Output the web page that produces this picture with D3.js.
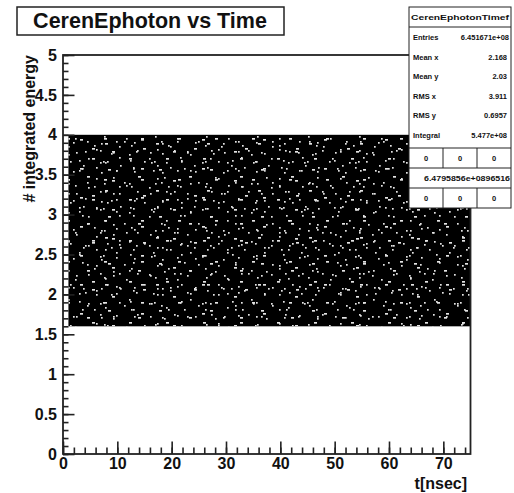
<!DOCTYPE html>
<html lang="en">
    <head>
        <meta charset="utf-8">
        <title>CerenEphoton vs Time</title>
        <script type="text/javascript" src="https://d3js.org/d3.v7.min.js"></script>
        <style type="text/css">
            body { margin: 0; background: #fff; }
            text { font-family: "Liberation Sans", Arial, sans-serif; font-weight: bold; fill: #111; }
        </style>
    </head>
    <body>
        <script type="text/javascript">
            //Width and height
            var w = 514;
            var h = 493;

            // occupied region of the 2D histogram (t, energy)
            var cellX = [1, 75];
            var cellY = [1.6, 4.0];

            // axes
            var xDomain = [0, 75];
            var yDomain = [0, 5];
            var xTicks = [0, 10, 20, 30, 40, 50, 60, 70];
            var yTicks = [0, 0.5, 1, 1.5, 2, 2.5, 3, 3.5, 4, 4.5, 5];

            // stats box
            var statTitle = "CerenEphotonTimef";
            var statLabels = ["Entries", "Mean x", "Mean y", "RMS x", "RMS y", "Integral"];
            var statValues = ["6.451671e+08", "2.168", "2.03", "3.911", "0.6957", "5.477e+08"];
            var overflowRows = [["0", "0", "0"], ["6.4795856e+0896516"], ["0", "0", "0"]];

            // frame edges (avoid window.top)
            var fLeft = 63, fRight = 470.5, fTop = 55, fBottom = 454;

            var x = d3.scaleLinear().domain(xDomain).range([fLeft, fRight]);
            var y = d3.scaleLinear().domain(yDomain).range([fBottom, fTop]);

            var svg = d3.select("body")
                        .append("svg")
                        .attr("width", w)
                        .attr("height", h);

            // speckle textures for the filled scatter area; three tiles of
            // different sizes overlap so the repeat is hard to see
            var speckTiles = [
                { id: "spA", w: 51, h: 47, pts: [[3,2,2],[17,5,1],[41,7,2],[9,12,1],[34,10,1],[1,20,1],
                                                [28,19,1],[49,21,1],[6,28,2],[31,27,1],[11,36,1],[36,35,2],
                                                [2,42,1],[24,44,1]] },
                { id: "spB", w: 37, h: 41, pts: [[5,6,1],[22,3,1],[30,15,2],[13,18,1],[2,29,1],[26,27,1],
                                                [18,35,2],[33,38,1],[9,1,1],[20,22,1]] },
                { id: "spC", w: 61, h: 29, pts: [[7,9,1],[19,23,2],[35,4,1],[44,17,1],[55,25,1],[27,13,1],
                                                [51,6,2],[12,26,1],[40,27,1],[58,12,1]] }
            ];
            var defs = svg.append("defs");
            speckTiles.forEach(function(t) {
                var p = defs.append("pattern")
                            .attr("id", t.id)
                            .attr("patternUnits", "userSpaceOnUse")
                            .attr("width", t.w).attr("height", t.h);
                p.selectAll("rect")
                 .data(t.pts)
                 .enter()
                 .append("rect")
                 .attr("x", function(d) { return d[0]; })
                 .attr("y", function(d) { return d[1]; })
                 .attr("width", function(d) { return d[2] === 2 ? 3 : 1.7; })
                 .attr("height", 1.7)
                 .attr("fill", "#e4e4e4");
            });

            var cell = {
                x: x(cellX[0]),
                y: y(cellY[1]),
                w: x(cellX[1]) - x(cellX[0]),
                h: y(cellY[0]) - y(cellY[1])
            };
            svg.append("rect")
               .attr("x", cell.x).attr("y", cell.y)
               .attr("width", cell.w).attr("height", cell.h)
               .attr("fill", "#000");
            svg.selectAll("rect.speck")
               .data(speckTiles)
               .enter()
               .append("rect")
               .attr("class", "speck")
               .attr("x", cell.x).attr("y", cell.y)
               .attr("width", cell.w).attr("height", cell.h)
               .attr("fill", function(d) { return "url(#" + d.id + ")"; });

            // axes with ROOT style inward ticks
            function xMinor() {
                var v = [];
                for (var i = 0; i <= 75; i += 2) v.push(i);
                return v;
            }
            function yMinor() {
                var v = [];
                for (var i = 0; i <= 50; i++) v.push(i / 10);
                return v;
            }
            function styleLabels(g) {
                g.select(".domain").remove();
                g.selectAll("text").attr("font-size", "16px").attr("fill", "#111")
                 .attr("font-family", "Liberation Sans, Arial, sans-serif").attr("font-weight", "bold");
            }

            svg.append("g")
               .attr("transform", "translate(0," + fBottom + ")")
               .call(d3.axisBottom(x).tickValues(xMinor()).tickSize(-6.5).tickFormat("").tickSizeOuter(0))
               .call(function(g) { g.select(".domain").remove(); });
            svg.append("g")
               .attr("transform", "translate(0," + fBottom + ")")
               .call(d3.axisBottom(x).tickValues(xTicks).tickSize(-12.5).tickPadding(3.8).tickSizeOuter(0))
               .call(styleLabels);

            svg.append("g")
               .attr("transform", "translate(" + fLeft + ",0)")
               .call(d3.axisLeft(y).tickValues(yMinor()).tickSize(-5.5).tickFormat("").tickSizeOuter(0))
               .call(function(g) { g.select(".domain").remove(); });
            svg.append("g")
               .attr("transform", "translate(" + fLeft + ",0)")
               .call(d3.axisLeft(y).tickValues(yTicks).tickSize(-11.5).tickPadding(6).tickSizeOuter(0)
                       .tickFormat(function(d) { return String(d); }))
               .call(styleLabels);

            svg.selectAll(".tick line").attr("stroke", "#222").attr("stroke-width", 1.6);

            // frame
            svg.append("rect")
               .attr("x", fLeft).attr("y", fTop)
               .attr("width", fRight - fLeft).attr("height", fBottom - fTop)
               .attr("fill", "none")
               .attr("stroke", "#222")
               .attr("stroke-width", 1.8);

            // axis titles
            svg.append("text")
               .attr("x", 467).attr("y", 489)
               .attr("text-anchor", "end")
               .attr("font-size", "16px")
               .text("t[nsec]");

            svg.append("text")
               .attr("transform", "translate(35," + fTop + ") rotate(-90)")
               .attr("text-anchor", "end")
               .attr("font-size", "16px")
               .text("# integrated energy");

            // title box
            svg.append("rect")
               .attr("x", 17).attr("y", 7).attr("width", 267).attr("height", 28)
               .attr("fill", "#fff").attr("stroke", "#222").attr("stroke-width", 1.5);
            svg.append("text")
               .attr("x", 150).attr("y", 27.5)
               .attr("text-anchor", "middle")
               .attr("font-size", "21.5px")
               .text("CerenEphoton vs Time");

            // stats box
            var sx0 = 409, sx1 = 511, sy0 = 7;
            var stats = svg.append("g");
            stats.append("rect")
                 .attr("x", sx0).attr("y", sy0).attr("width", sx1 - sx0).attr("height", 201)
                 .attr("fill", "#fff").attr("stroke", "#222").attr("stroke-width", 1);
            stats.append("line")
                 .attr("x1", sx0).attr("x2", sx1).attr("y1", 27).attr("y2", 27)
                 .attr("stroke", "#222").attr("stroke-width", 1);
            stats.append("text")
                 .attr("x", (sx0 + sx1) / 2).attr("y", 20)
                 .attr("text-anchor", "middle")
                 .attr("font-size", "8px")
                 .attr("textLength", 98).attr("lengthAdjust", "spacingAndGlyphs")
                 .text(statTitle);

            stats.selectAll("text.lab")
                 .data(statLabels)
                 .enter()
                 .append("text")
                 .attr("class", "lab")
                 .attr("x", sx0 + 4)
                 .attr("y", function(d, i) { return 40 + i * 19.6; })
                 .attr("font-size", "7.5px")
                 .text(function(d) { return d; });
            stats.selectAll("text.val")
                 .data(statValues)
                 .enter()
                 .append("text")
                 .attr("class", "val")
                 .attr("x", function(d, i) { return i === 0 ? sx1 - 2 : sx1 - 4; })
                 .attr("y", function(d, i) { return 40 + i * 19.6; })
                 .attr("text-anchor", "end")
                 .attr("font-size", "7.5px")
                 .text(function(d) { return d; });

            // underflow / overflow table
            var rowY = [148, 168, 188, 208];
            var colX = [sx0, 443, 477, sx1];
            rowY.slice(0, 3).forEach(function(ry) {
                stats.append("line")
                     .attr("x1", sx0).attr("x2", sx1).attr("y1", ry).attr("y2", ry)
                     .attr("stroke", "#222").attr("stroke-width", 1);
            });
            overflowRows.forEach(function(row, r) {
                if (row.length === 3) {
                    [1, 2].forEach(function(c) {
                        stats.append("line")
                             .attr("x1", colX[c]).attr("x2", colX[c])
                             .attr("y1", rowY[r]).attr("y2", rowY[r + 1])
                             .attr("stroke", "#222").attr("stroke-width", 1);
                    });
                    row.forEach(function(v, c) {
                        stats.append("text")
                             .attr("x", (colX[c] + colX[c + 1]) / 2)
                             .attr("y", rowY[r] + 12.5)
                             .attr("text-anchor", "middle")
                             .attr("font-size", "7.5px")
                             .text(v);
                    });
                } else {
                    stats.append("text")
                         .attr("x", 424)
                         .attr("y", rowY[r] + 12.5)
                         .attr("font-size", "7.5px")
                         .attr("textLength", 86).attr("lengthAdjust", "spacingAndGlyphs")
                         .text(row[0]);
                }
            });
        </script>
    </body>
</html>
